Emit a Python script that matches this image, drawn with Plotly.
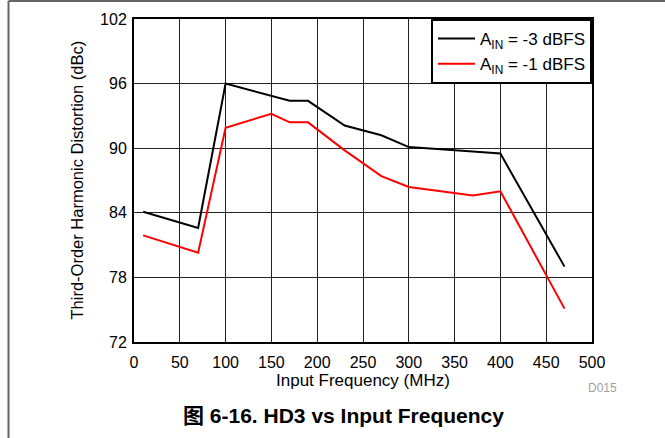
import plotly.graph_objects as go

# Data
freq_mhz = [10, 70, 100, 150, 170, 190, 230, 270, 300, 370, 400, 470]
hd3_m3dbfs = [84.1, 82.6, 96.0, 94.9, 94.4, 94.4, 92.1, 91.2, 90.1, 89.7, 89.5, 79.0]
hd3_m1dbfs = [81.9, 80.3, 91.9, 93.2, 92.4, 92.4, 89.8, 87.4, 86.4, 85.6, 86.0, 75.1]
series_names = ["A<sub>IN</sub> = -3 dBFS", "A<sub>IN</sub> = -1 dBFS"]
series_colors = ["#000000", "#ff0000"]
x_ticks = [0, 50, 100, 150, 200, 250, 300, 350, 400, 450, 500]
y_ticks = [72, 78, 84, 90, 96, 102]

FONT = "Liberation Sans, Arial, Helvetica, Noto Sans CJK SC, sans-serif"

W, H = 665, 438
L, R, T, B = 134, 592, 19, 342

def px_x(p):
    return (p - L) / (R - L)

def px_y(p):
    return (B - p) / (B - T)

fig = go.Figure()
for vals, name, col in zip([hd3_m3dbfs, hd3_m1dbfs], series_names, series_colors):
    fig.add_trace(go.Scatter(x=freq_mhz, y=vals, mode="lines", name=name,
                             line=dict(color=col, width=2)))

fig.update_layout(
    width=W, height=H,
    margin=dict(l=L, r=W - R, t=T, b=H - B, pad=0),
    paper_bgcolor="white", plot_bgcolor="white",
    font=dict(family=FONT, size=16, color="black"),
    showlegend=True,
    legend=dict(x=1, y=1, xanchor="right", yanchor="top",
                bgcolor="white", bordercolor="black", borderwidth=2,
                font=dict(size=17), tracegroupgap=0, itemwidth=37),
    xaxis=dict(range=[0, 500], tickvals=x_ticks, showgrid=True,
               gridcolor="#222222", gridwidth=1, showline=True, linecolor="black",
               linewidth=2, mirror=True, ticks="", zeroline=False,
               ticklabelstandoff=5, tickfont=dict(size=16)),
    yaxis=dict(range=[72, 102], tickvals=y_ticks, showgrid=True,
               gridcolor="#222222", gridwidth=1, showline=True, linecolor="black",
               linewidth=2, mirror=True, ticks="", zeroline=False,
               ticklabelstandoff=2, tickfont=dict(size=16)),
)

annotations = [
    dict(text="Input Frequency (MHz)", x=px_x(363), y=px_y(380), xref="paper", yref="paper",
         showarrow=False, xanchor="center", yanchor="middle", font=dict(size=17)),
    dict(text="Third-Order Harmonic Distortion (dBc)", x=px_x(76), y=px_y(180.5),
         xref="paper", yref="paper", showarrow=False, textangle=-90,
         xanchor="center", yanchor="middle", font=dict(size=16.5)),
    dict(text="D015", x=px_x(602), y=px_y(388), xref="paper", yref="paper",
         showarrow=False, xanchor="center", yanchor="middle",
         font=dict(size=12, color="#a0a0a0")),
    dict(text="<b>图 6-16. HD3 vs Input Frequency</b>", x=px_x(343), y=px_y(415),
         xref="paper", yref="paper", showarrow=False, xanchor="center", yanchor="middle",
         font=dict(size=21)),
]
fig.update_layout(annotations=annotations)

fig.add_shape(type="line", xref="paper", yref="paper",
              x0=px_x(8.5), x1=px_x(8.5), y0=px_y(1), y1=px_y(440),
              line=dict(color="#666666", width=2))
fig.add_shape(type="line", xref="paper", yref="paper",
              x0=px_x(8.5), x1=px_x(670), y0=px_y(1), y1=px_y(1),
              line=dict(color="#666666", width=2))

fig.write_html("out.html", config={"displayModeBar": False},
               post_script="document.body.style.margin='0';document.body.style.overflow='hidden';")
